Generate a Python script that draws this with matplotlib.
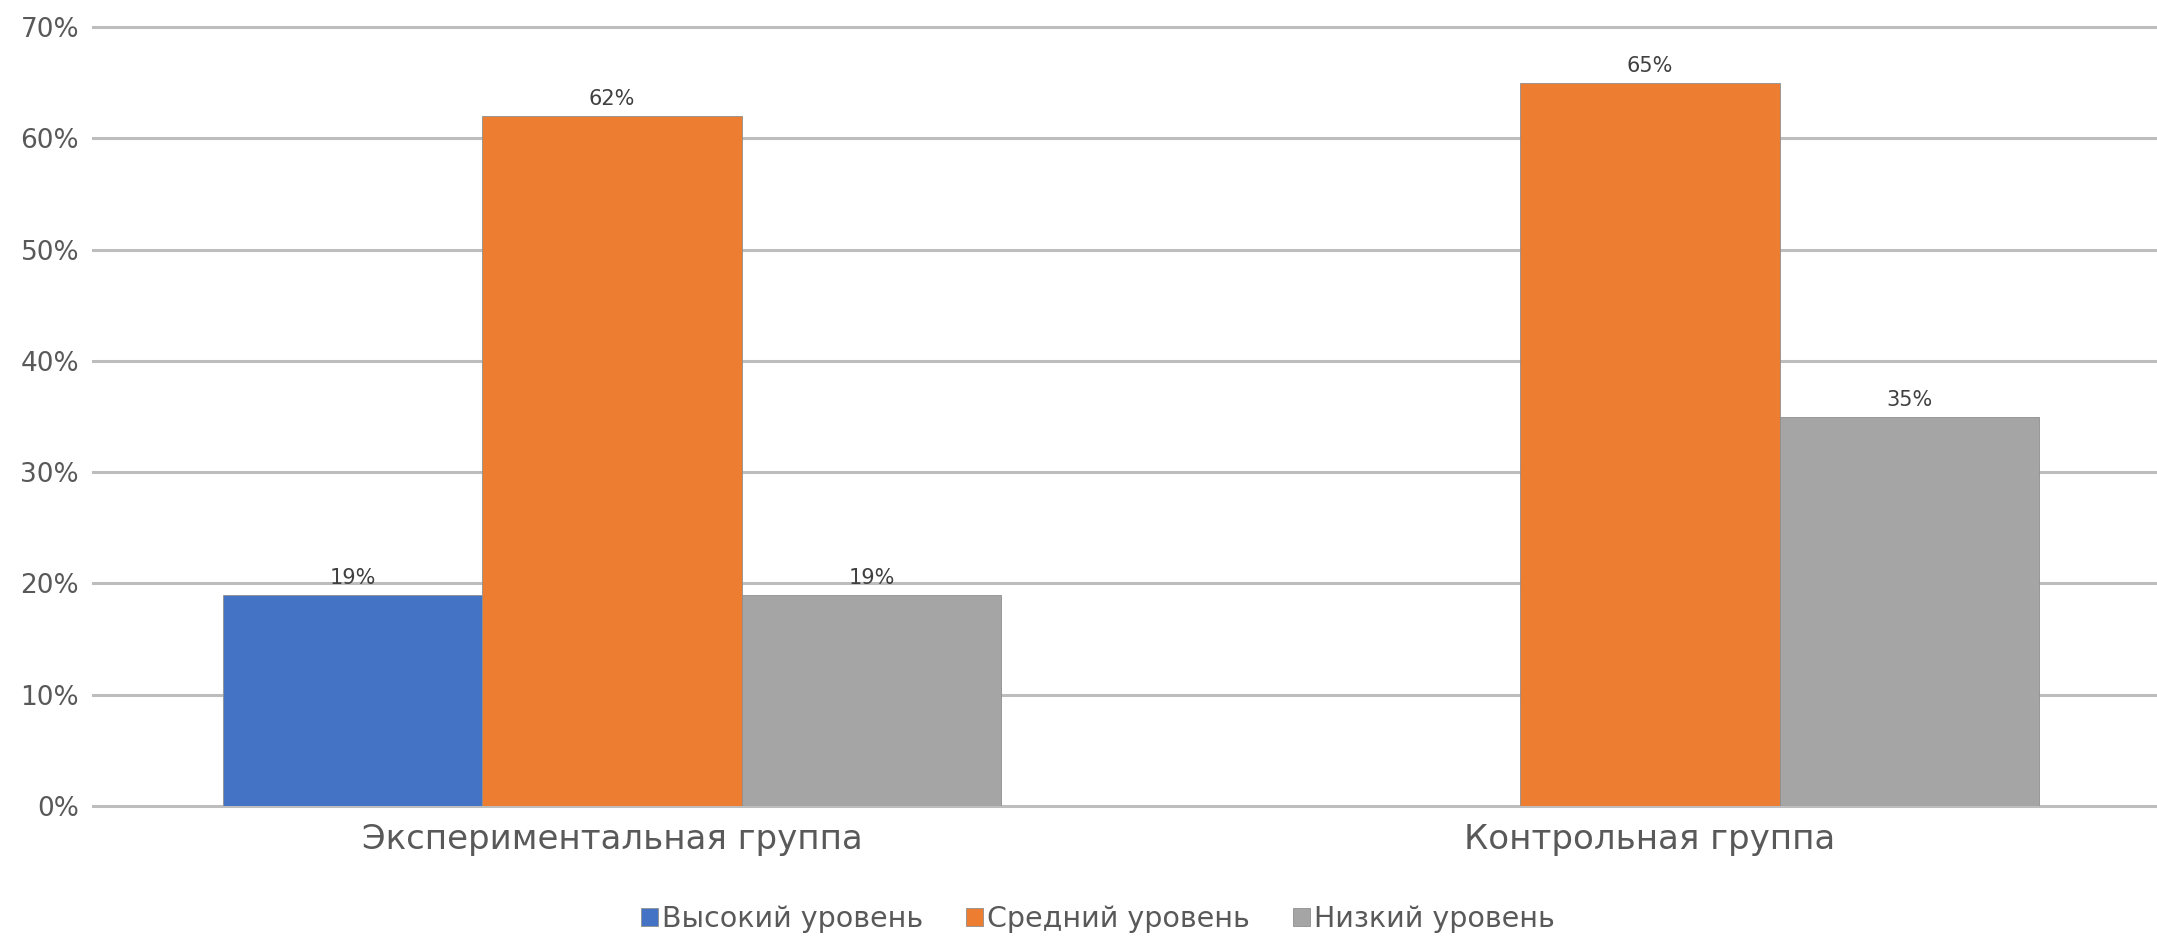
import matplotlib
matplotlib.use("Agg")
import matplotlib.pyplot as plt
import numpy as np

categories = ["Экспериментальная группа", "Контрольная группа"]
series_names = ["Высокий уровень", "Средний уровень", "Низкий уровень"]
high = [0.19, 0.0]
medium = [0.62, 0.65]
low = [0.19, 0.35]
colors = ["#4472C4", "#ED7D31", "#A5A5A5"]
y_ticks = [0, 0.1, 0.2, 0.3, 0.4, 0.5, 0.6, 0.7]
y_tick_labels = ["0%", "10%", "20%", "30%", "40%", "50%", "60%", "70%"]

plt.rcParams['font.family'] = ['DejaVu Sans']
W, H = 2157, 940
fig = plt.figure(figsize=(W / 100, H / 100), dpi=100)
ax = fig.add_axes([93 / W, 134 / H, (2169 - 93) / W, (806 - 27) / H])

x = np.arange(len(categories))
width = 0.25
text_color = "#595959"
for i, (vals, name, c) in enumerate(zip([high, medium, low], series_names, colors)):
    offs = (i - 1) * width
    bars = ax.bar(x + offs, vals, width, color=c, label=name, zorder=3,
                  edgecolor="#8f8f8f", linewidth=0.6)
    for xi, v in zip(x + offs, vals):
        if v > 0:
            ax.annotate(f"{round(v * 100)}%", (xi, v), xytext=(0, 5),
                        textcoords="offset points", ha="center", va="bottom",
                        fontsize=15, color="#404040")

ax.set_xlim(-0.5, 1.5)
ax.set_ylim(0, 0.7)
ax.set_yticks(y_ticks)
ax.set_yticklabels(y_tick_labels)
ax.set_xticks(x)
ax.set_xticklabels(categories)
ax.tick_params(axis="y", length=0, pad=10, labelsize=19, labelcolor=text_color)
ax.tick_params(axis="x", length=0, pad=12, labelsize=24.5, labelcolor=text_color)
ax.grid(axis="y", color="#BDBDBD", linewidth=2.2, zorder=0)
ax.set_axisbelow(True)
for gl in ax.get_ygridlines():
    gl.set_clip_on(False)
for s in ax.spines.values():
    s.set_visible(False)

fig.legend(loc="center", bbox_to_anchor=(1098 / W, 21 / H), ncol=3, frameon=False,
           fontsize=20.5, handlelength=0.6, handleheight=0.6, handletextpad=0.15,
           columnspacing=1.5, labelcolor=text_color)

fig.savefig("out.png", dpi=100, facecolor="white")
